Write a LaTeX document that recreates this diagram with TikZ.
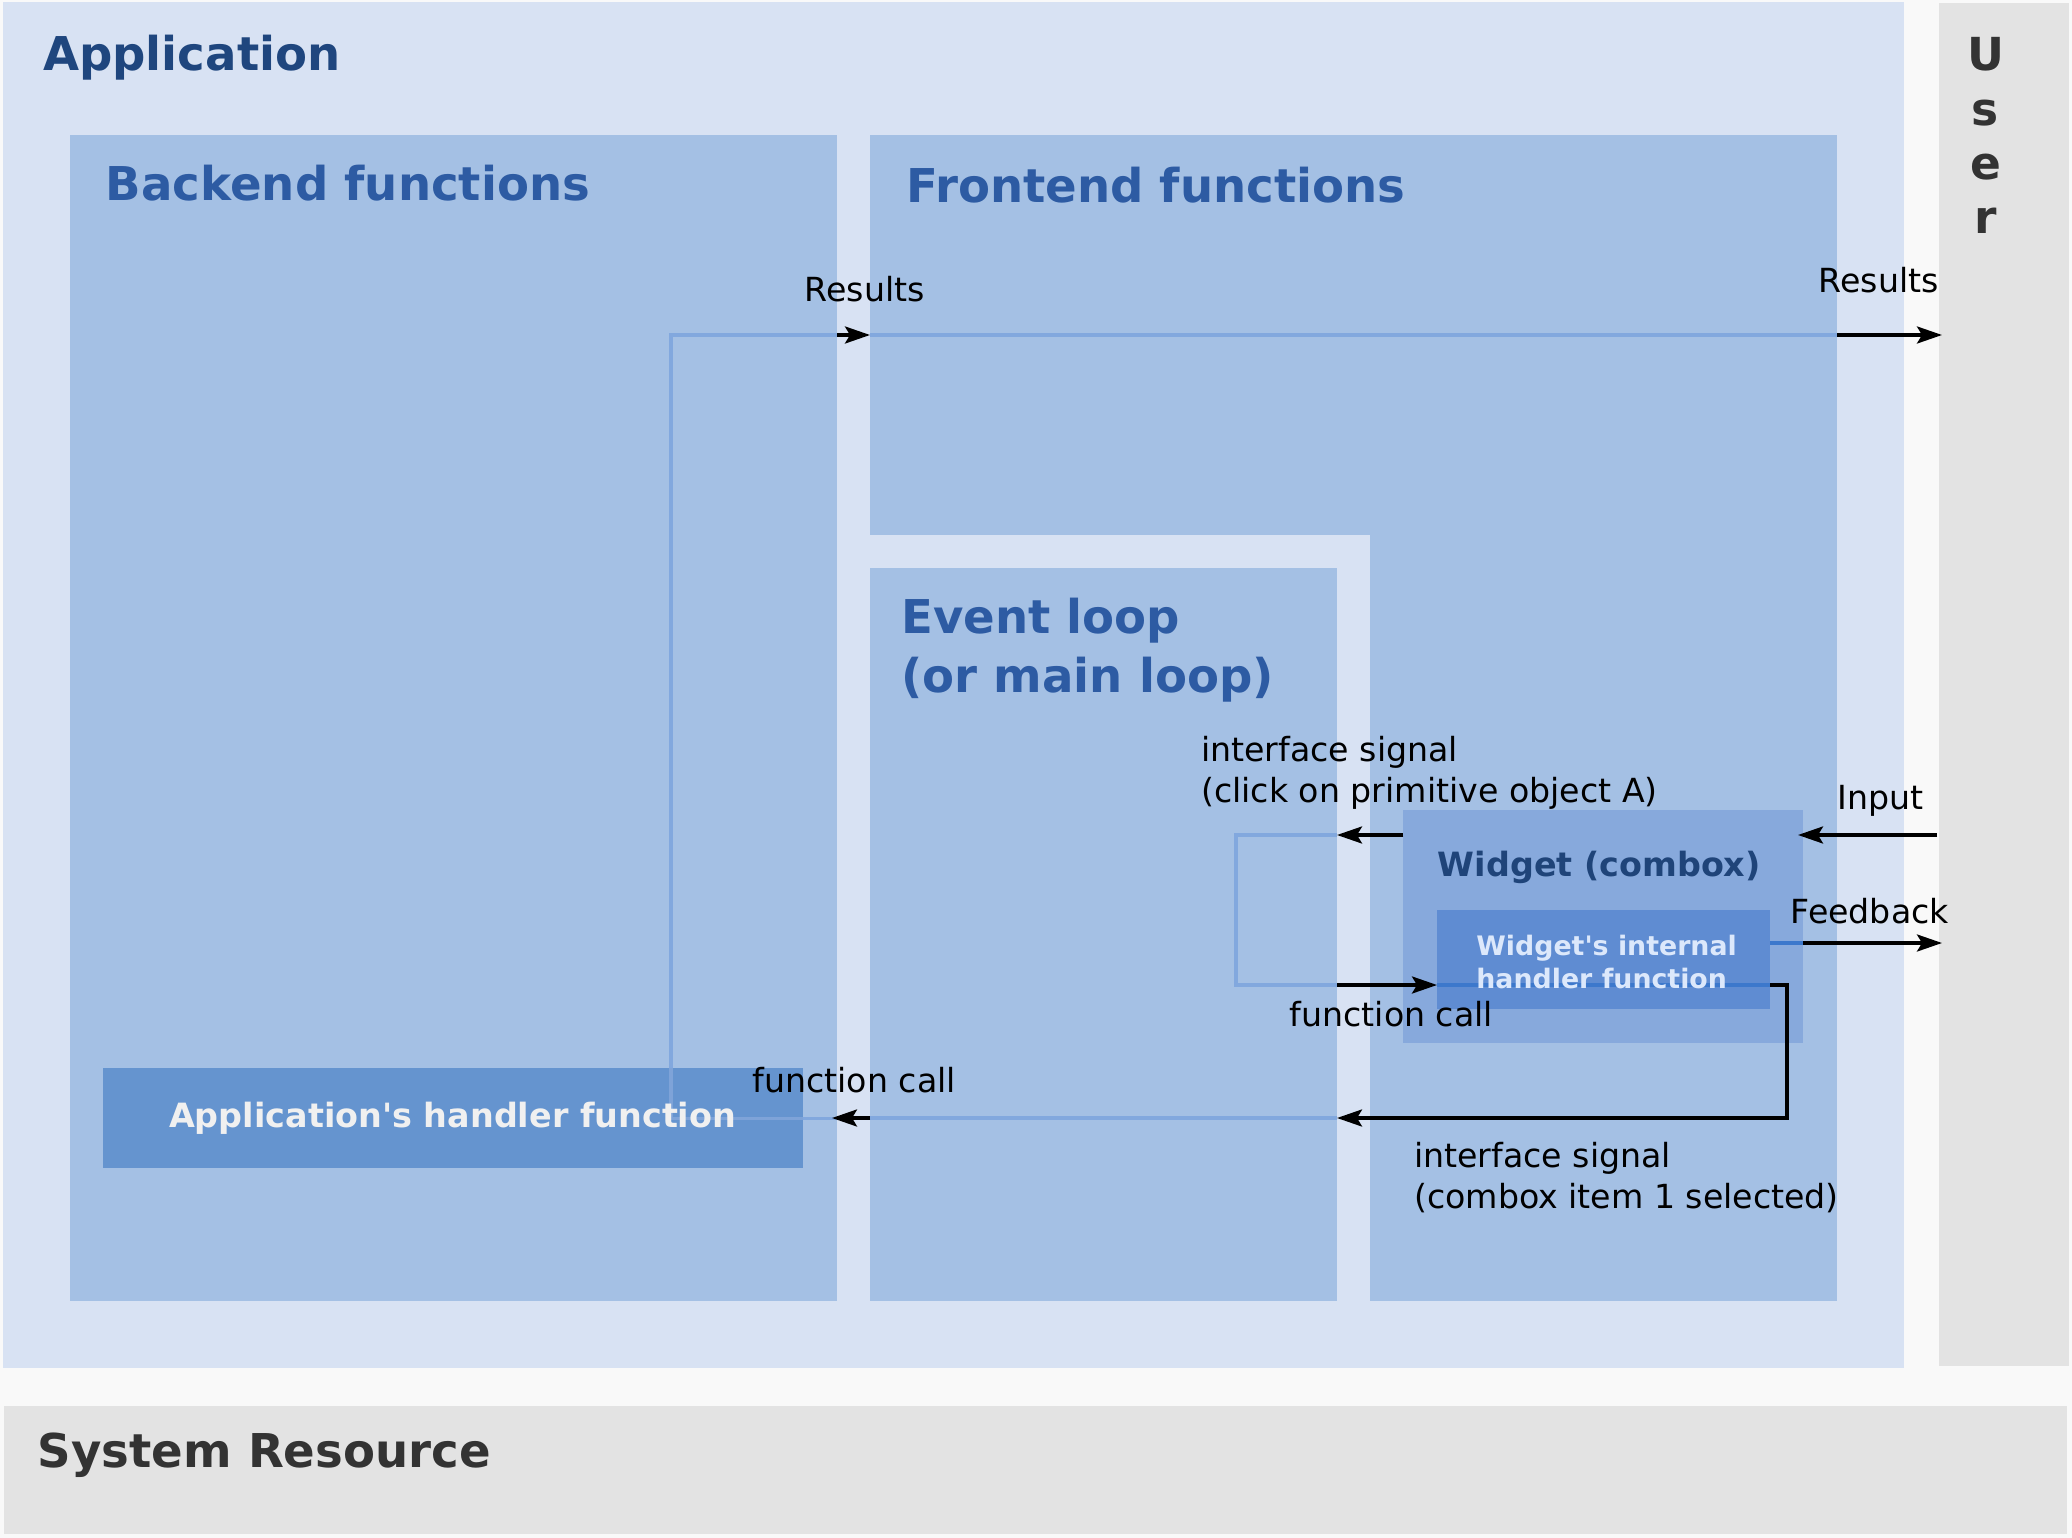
\documentclass[tikz,border=0pt]{standalone}
\usepackage{fontspec}
\setmainfont{DejaVu Sans}[Ligatures=TeXOff]
\usetikzlibrary{arrows.meta}
\definecolor{bgc}{HTML}{F9F9F9}
\definecolor{appc}{HTML}{D8E2F3}
\definecolor{funcc}{HTML}{A4C0E4}
\definecolor{widc}{HTML}{87A9DC}
\definecolor{whc}{HTML}{5F8CD2}
\definecolor{apphc}{HTML}{6594CF}
\definecolor{grayc}{HTML}{E3E3E3}
\definecolor{apptxt}{HTML}{1F467E}
\definecolor{functxt}{HTML}{2D5BA3}
\definecolor{widtxt}{HTML}{1F4479}
\definecolor{whtxt}{HTML}{DCE8FB}
\definecolor{aphtxt}{HTML}{F0F0F0}
\definecolor{darktxt}{HTML}{333333}
\definecolor{lineblue}{HTML}{82A8DE}
\definecolor{linelight}{HTML}{7EA3D8}
\definecolor{linedeep}{HTML}{3C78CC}
\begin{document}
\begin{tikzpicture}[x=1pt,y=-1pt,
  box/.style={rectangle,inner sep=0pt,outer sep=0pt,anchor=north west,draw=none},
  bigtitle/.style={inner sep=0pt,anchor=base west,font=\fontsize{46.6}{59}\selectfont\bfseries},
  lbl/.style={inner sep=0pt,anchor=base west,font=\fontsize{33.2}{41}\selectfont,text=black},
  tipc/.style={-{Stealth[length=25pt,width=17pt,inset=5pt]}},
  blk/.style={draw=black,line width=3.3pt},
  bl/.style={draw=lineblue,line width=3.3pt},
  bll/.style={draw=linelight,line width=3.3pt},
  bld/.style={draw=linedeep,line width=3.3pt}]
\useasboundingbox (0,0) rectangle (2072,1538);
\fill[bgc] (0,0) rectangle (2072,1538);

% containers
\node[box,fill=appc,minimum width=1900.5pt,minimum height=1366pt] (app) at (3,2) {};
\node[box,fill=grayc,minimum width=130pt,minimum height=1363pt] (user) at (1939,3.4) {};
\node[box,fill=grayc,minimum width=2063pt,minimum height=128.5pt] (sys) at (4,1405.5) {};
\node[box,fill=funcc,minimum width=767pt,minimum height=1166pt] (back) at (70,135) {};
\node[box,fill=funcc,minimum width=967pt,minimum height=1166pt] (front) at (870,135) {};
\fill[appc] (870,535) rectangle (1370,1301);
\node[box,fill=funcc,minimum width=467pt,minimum height=733pt] (evl) at (870,568) {};
\node[box,fill=widc,minimum width=399.6pt,minimum height=232.6pt] (widget) at (1403.4,810) {};
\node[box,fill=whc,minimum width=333pt,minimum height=99.5pt] (wh) at (1437,909.5) {};
\node[box,fill=apphc,minimum width=700pt,minimum height=100pt] (apph) at (103,1068.3) {};

% titles
\node[bigtitle,text=apptxt] (tapp) at (43,71) {Application};
\node[bigtitle,text=functxt] (tback) at (105.7,201) {Backend functions};
\node[bigtitle,text=functxt] (tfront) at (906,203) {Frontend functions};
\node[bigtitle,text=functxt] (tevl) at (901,633) {\vtop{\halign{#\hfil\cr Event loop\cr (or main loop)\cr}}};
\node[inner sep=0pt,anchor=base,font=\fontsize{45.5}{54.3}\selectfont\bfseries,text=darktxt] (tuser) at (1985.5,71)
  {\vtop{\halign{\hfil#\hfil\cr U\cr s\cr e\cr r\cr}}};
\node[bigtitle,text=darktxt] (tsys) at (37.5,1467) {System Resource};
\node[inner sep=0pt,anchor=base west,font=\fontsize{33.4}{41}\selectfont\bfseries,text=widtxt] (twid) at (1437.7,876) {Widget (combox)};

% connection levels
\coordinate (r1) at (671,335);
\coordinate (yin) at (1236,835);
\coordinate (yfb) at (1700,943);
\coordinate (yfc) at (1236,985);
\coordinate (ydn) at (1787,1118);

% Results: backend -> frontend
\draw[bl] (apph.east -| back.east) -- (apph.east);
\draw[bll] (apph.east) -| (r1 |- apph.north);
\draw[bl] (r1 |- apph.north) -- (r1) -- (r1 -| back.east);
\draw[blk,tipc] (r1 -| back.east) -- (r1 -| front.west);
% Results: frontend -> user
\draw[bl] (r1 -| front.west) -- (r1 -| front.east);
\draw[blk,tipc,shorten >=-3pt] (r1 -| front.east) -- (r1 -| user.west);
% Input
\draw[blk,tipc,shorten >=-5pt] ([xshift=-2pt]yin -| user.west) -- (yin -| widget.east);
% interface signal (click)
\draw[blk,tipc] (yin -| widget.west) -- (yin -| evl.east);
\draw[bl] (yin -| evl.east) -- (yin) -- (yfc) -- (yfc -| evl.east);
% function call to widget handler
\draw[blk,tipc] (yfc -| evl.east) -- (yfc -| wh.west);
% interface signal (combox)
\draw[bld] (yfc -| wh.west) -- (yfc -| wh.east);
\draw[blk,tipc] (yfc -| wh.east) -- (yfc -| ydn) -- (ydn) -- (ydn -| evl.east);
% function call to application handler
\draw[bl] (ydn -| evl.east) -- (ydn -| evl.west);
\draw[blk,tipc,shorten >=-5pt] (ydn -| evl.west) -- (ydn -| back.east);
% Feedback
\draw[bld] (yfb -| wh.east) -- (yfb -| widget.east);
\draw[blk,tipc,shorten >=-3pt] (yfb -| widget.east) -- (yfb -| user.west);

% texts inside handler boxes (drawn above the connectors)
\node[inner sep=0pt,anchor=base west,font=\fontsize{26.8}{33}\selectfont\bfseries,text=whtxt] (twh) at (1476.2,955.5)
  {\vtop{\halign{#\hfil\cr Widget's internal\cr handler function\cr}}};
\node[inner sep=0pt,anchor=base,font=\fontsize{33.4}{41}\selectfont\bfseries,text=aphtxt] (tapph) at (452.6,1127.6)
  {Application's handler function};

% labels
\node[lbl] (lres1) at (804.5,301.6) {Results};
\node[lbl] (lres2) at (1818.5,293) {Results};
\node[lbl] (lis1) at (1201,761.5) {\vtop{\halign{#\hfil\cr interface signal\cr (click on primitive object A)\cr}}};
\node[lbl] (lin) at (1837,809.6) {Input};
\node[lbl] (lfb) at (1790.5,923) {Feedback};
\node[lbl] (lfc1) at (1289.5,1026) {function call};
\node[lbl] (lfc2) at (752.5,1092.8) {function call};
\node[lbl] (lis2) at (1414,1167.7) {\vtop{\halign{#\hfil\cr interface signal\cr (combox item 1 selected)\cr}}};
\end{tikzpicture}
\end{document}
